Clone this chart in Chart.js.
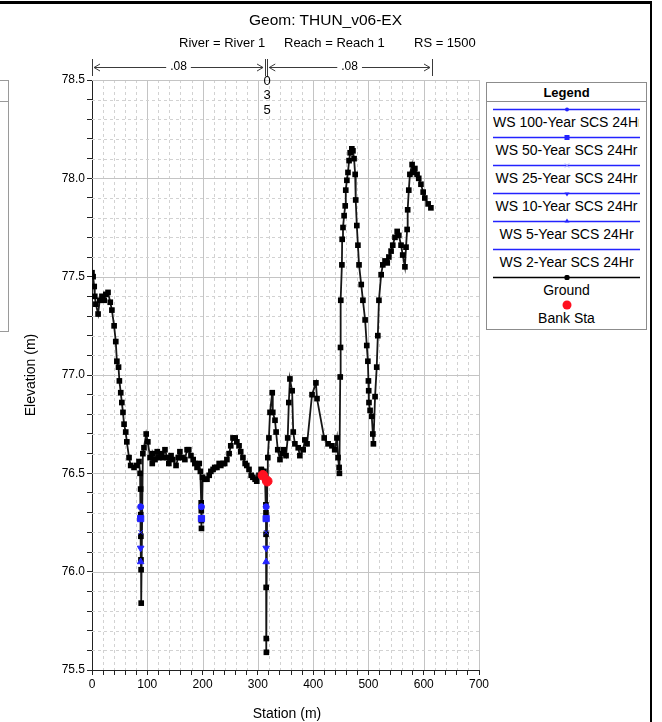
<!DOCTYPE html>
<html>
<head>
<meta charset="utf-8">
<title>Geom: THUN_v06-EX</title>
<script src="https://cdn.jsdelivr.net/npm/chart.js@4.4.1/dist/chart.umd.min.js"></script>
<style>
  html, body { margin: 0; padding: 0; background: #fff; }
  body { width: 662px; height: 722px; position: relative; overflow: hidden;
         font-family: "Liberation Sans", Arial, sans-serif; color: #000; }
  #chart { position: absolute; left: 0; top: 0; }
  .txt { position: absolute; white-space: nowrap; line-height: 1; }
  .frame-top { position: absolute; left: 0; top: 1px; width: 652px; height: 3px; background: #000; }
  .frame-right { position: absolute; left: 650px; top: 1px; width: 2px; height: 721px; background: #000; }
  .side-box { position: absolute; left: -30px; top: 80px; width: 37px; height: 250px;
              border: 1px solid #9a9a9a; background: #fff; }
  .side-box .sep { position: absolute; left: 0; right: 0; top: 20px; border-top: 1px solid #9a9a9a; }
  #legend { position: absolute; left: 486px; top: 82px; width: 159px; height: 246px;
            border: 1px solid #8c8c8c; background: #fff; overflow: hidden; }
  #legend .head { position: absolute; left: 0; right: 0; top: 2px; text-align: center;
                  font-weight: bold; font-size: 13px; }
  #legend .sep { position: absolute; left: 0; right: 0; top: 18px; border-top: 1px solid #8c8c8c; }
  #legend svg { position: absolute; left: 0; }
  #legend .lab { position: absolute; left: 2px; width: 155px; text-align: center;
                 font-size: 14px; white-space: nowrap; overflow: hidden; text-overflow: clip; }
</style>
</head>
<body>
<canvas id="chart" width="662" height="722"></canvas>

<div class="frame-top"></div>
<div class="frame-right"></div>
<div class="side-box"><div class="sep"></div></div>

<div class="txt" style="left:249px; top:12px; font-size:15.5px;">Geom: THUN_v06-EX</div>
<div class="txt" style="left:179px; top:36px; font-size:13px;">River = River 1</div>
<div class="txt" style="left:284px; top:36px; font-size:13px;">Reach = Reach 1</div>
<div class="txt" style="left:414px; top:36px; font-size:13px;">RS = 1500</div>

<div class="txt" style="left:30px; top:375px; font-size:14px; transform:translate(-50%,-50%) rotate(-90deg);">Elevation (m)</div>
<div class="txt" style="left:287px; top:713px; font-size:14px; transform:translate(-50%,-50%);">Station (m)</div>

<div id="legend"><div class="head">Legend</div><div class="sep"></div></div>

<script>
// Ground profile of the cross section (station in m, elevation in m)
const groundStation = [
  0, 2, 4, 5, 7, 11, 14, 18, 22, 25, 29, 33, 36, 40, 43, 45, 48, 49.5, 52, 54,
  56, 58, 61, 63, 67, 70, 76, 81, 85, 87,
  88, 88.2, 88.4, 88.6, 88.8, 89,
  92, 94, 98, 101, 105, 109, 110, 114, 118, 121, 125, 128, 132, 136, 139, 143, 146, 152, 156, 159,
  163, 168, 172, 175, 179, 183, 186, 190, 194, 196,
  197.5, 197.7, 197.9, 198,
  200, 204, 208, 212, 215, 219, 222, 226, 230, 233, 237, 240, 244, 248, 251, 255, 259, 262, 266, 269,
  273, 277, 280, 284, 288, 291, 295, 298, 302, 306, 309, 311, 313,
  314.5, 314.7, 314.8, 315, 315.2, 315.4,
  317, 318, 320, 322, 326, 327, 331, 333, 336, 340, 344, 347, 351, 354, 356, 358, 362, 364, 367, 373,
  376, 382, 385, 389, 398, 405, 407, 420, 427, 434, 439, 443, 445, 447, 447.5,
  449, 449.5, 450, 452, 452.5, 454, 456, 458, 459, 461, 463, 465, 467, 470, 472, 474, 476, 477, 479, 481,
  483, 487, 490, 494, 497, 499, 500, 500.5, 501, 503, 506, 508, 509, 512, 515, 517, 519, 523, 526, 530,
  534, 537, 541, 544, 548, 552, 555, 559, 562, 566, 568, 570, 571, 573, 575, 579, 581, 584, 588, 591,
  595, 599, 602, 608, 613
];
const groundElev = [
  77.52, 77.50, 77.45, 77.40, 77.36, 77.31, 77.38, 77.40, 77.38, 77.41, 77.42, 77.37, 77.33, 77.25, 77.17, 77.07, 77.04, 76.97, 76.91, 76.86,
  76.81, 76.75, 76.71, 76.66, 76.58, 76.54, 76.53, 76.54, 76.56, 76.50,
  76.42, 76.29, 76.18, 76.06, 76.01, 75.84,
  76.60, 76.63, 76.70, 76.66, 76.58, 76.55, 76.60, 76.57, 76.61, 76.58, 76.60, 76.58, 76.62, 76.58, 76.55, 76.59, 76.57, 76.54, 76.58, 76.61,
  76.58, 76.57, 76.62, 76.62, 76.59, 76.57, 76.55, 76.53, 76.55, 76.51,
  76.35, 76.31, 76.26, 76.22,
  76.48, 76.47, 76.47, 76.49, 76.51, 76.52, 76.53, 76.53, 76.55, 76.54, 76.55, 76.55, 76.57, 76.60, 76.64, 76.68, 76.68, 76.66, 76.64, 76.61,
  76.58, 76.55, 76.54, 76.52, 76.49, 76.48, 76.47, 76.46, 76.49, 76.52, 76.49, 76.51, 76.47,
  76.34, 76.30, 76.19, 75.92, 75.66, 75.59,
  76.46, 76.58, 76.68, 76.81, 76.91, 76.81, 76.77, 76.71, 76.62, 76.57, 76.60, 76.62, 76.59, 76.68, 76.86, 76.98, 76.92, 76.71, 76.65, 76.63,
  76.59, 76.62, 76.67, 76.65, 76.90, 76.96, 76.88, 76.68, 76.65, 76.64, 76.62, 76.68, 76.58, 76.53, 76.50,
  76.99, 77.14, 77.38, 77.56, 77.69, 77.75, 77.81, 77.86, 77.94, 77.99, 78.03, 78.09, 78.13, 78.15, 78.14, 78.10, 78.02, 77.89, 77.76, 77.66,
  77.56, 77.46, 77.38, 77.28, 77.15, 77.07, 76.97, 76.92, 76.86, 76.82, 76.79, 76.70, 76.65, 76.89, 77.04, 77.20, 77.38, 77.51, 77.56, 77.58,
  77.57, 77.60, 77.63, 77.66, 77.70, 77.73, 77.71, 77.66, 77.61, 77.55, 77.65, 77.74, 77.84, 77.94, 78.02, 78.07, 78.03, 78.05, 78.02, 78.00,
  77.97, 77.93, 77.90, 77.87, 77.85
];

// Bank stations
const bankStation = [309, 317];
const bankElev = [76.49, 76.46];

// Water surface elevations in the three low slots (null = slot is dry)
const slotStation = [88, 198, 315];
const ws100 = [76.33, 76.33, 76.33];
const ws50  = [76.27, 76.27, 76.27];
const ws25  = [76.20, null, 76.20];
const ws10  = [76.12, null, 76.12];
const ws5   = [76.05, null, 76.05];
const ws2   = [75.98, null, 75.98];

// Manning's n regions: break stations and n values
const nBreaks = [0, 313, 317, 615];
const nValues = ['.08', '.035', '.08'];

// Axis tick labels
const xTickLabels = [0, 100, 200, 300, 400, 500, 600, 700];
const yTickLabels = [75.5, 76.0, 76.5, 77.0, 77.5, 78.0, 78.5];

const FONT = '"Liberation Sans", Arial, sans-serif';
const BLUE = '#2323ff';

function pts(xs, ys) {
  const out = [];
  xs.forEach((x, i) => { if (ys[i] !== null && ys[i] !== undefined) out.push({ x: x, y: ys[i] }); });
  return out;
}

const wsSeries = [
  { label: 'WS 100-Year SCS 24Hr', values: ws100, style: 'circle',   radius: 3.0, rot: 0 },
  { label: 'WS 50-Year SCS 24Hr',  values: ws50,  style: 'rect',     radius: 4.4, rot: 0 },
  { label: 'WS 25-Year SCS 24Hr',  values: ws25,  style: 'crossRot', radius: 3.2, rot: 0 },
  { label: 'WS 10-Year SCS 24Hr',  values: ws10,  style: 'triangle', radius: 3.8, rot: 180 },
  { label: 'WS 5-Year SCS 24Hr',   values: ws5,   style: 'triangle', radius: 3.8, rot: 0 },
  { label: 'WS 2-Year SCS 24Hr',   values: ws2,   style: 'circle',   radius: 0,   rot: 0 }
];

const datasets = [];
datasets.push({
  label: 'Bank Sta',
  data: pts(bankStation, bankElev),
  showLine: false,
  pointStyle: 'circle',
  pointRadius: 4.8,
  pointBackgroundColor: '#ff1020',
  pointBorderColor: '#ff1020',
  order: 0
});
wsSeries.forEach(s => {
  datasets.push({
    label: s.label,
    data: pts(slotStation, s.values),
    showLine: false,
    pointStyle: s.style,
    pointRadius: s.radius,
    pointRotation: s.rot,
    pointBackgroundColor: BLUE,
    pointBorderColor: BLUE,
    pointBorderWidth: 1,
    order: 1
  });
});
datasets.push({
  label: 'Ground',
  data: pts(groundStation, groundElev),
  showLine: true,
  borderColor: '#161616',
  borderWidth: 1.8,
  pointStyle: 'rect',
  pointRadius: 4.0,
  pointBackgroundColor: '#000',
  pointBorderColor: '#000',
  pointBorderWidth: 0,
  tension: 0,
  order: 2
});

// Grid: solid major lines, dashed minor lines, drawn behind the data
const sectionGrid = {
  id: 'sectionGrid',
  beforeDatasetsDraw(chart) {
    const { ctx, chartArea: a, scales: { x, y } } = chart;
    ctx.save();
    ctx.lineWidth = 1;
    x.ticks.forEach(t => {
      const px = Math.round(x.getPixelForValue(t.value)) + 0.5;
      const major = xTickLabels.includes(t.value);
      if (t.value === 0) return;
      ctx.strokeStyle = major ? '#c4c4c4' : '#d2d2d2';
      ctx.setLineDash(major ? [] : [3, 3]);
      ctx.beginPath(); ctx.moveTo(px, a.top); ctx.lineTo(px, a.bottom); ctx.stroke();
    });
    y.ticks.forEach(t => {
      const py = Math.round(y.getPixelForValue(t.value)) + 0.5;
      const major = yTickLabels.some(v => Math.abs(v - t.value) < 1e-6);
      if (Math.abs(t.value - 75.5) < 1e-6) return;
      ctx.strokeStyle = major ? '#c4c4c4' : '#d2d2d2';
      ctx.setLineDash(major ? [] : [3, 3]);
      ctx.beginPath(); ctx.moveTo(a.left, py); ctx.lineTo(a.right, py); ctx.stroke();
    });
    ctx.restore();
  }
};

// Manning's n regions drawn above the plot
const nRegions = {
  id: 'nRegions',
  afterDraw(chart) {
    const { ctx, scales: { x } } = chart;
    const yLine = 67;
    ctx.save();
    ctx.strokeStyle = '#3a3a3a';
    ctx.fillStyle = '#000';
    ctx.lineWidth = 1;
    ctx.font = '12px ' + FONT;
    nBreaks.forEach(b => {
      const px = Math.round(x.getPixelForValue(b)) + 0.5;
      ctx.beginPath(); ctx.moveTo(px, 59); ctx.lineTo(px, 76); ctx.stroke();
    });
    for (let i = 0; i < nValues.length; i++) {
      const x0 = x.getPixelForValue(nBreaks[i]);
      const x1 = x.getPixelForValue(nBreaks[i + 1]);
      if (x1 - x0 > 20) {
        const l = x0 + 2, r = x1 - 2, mid = (x0 + x1) / 2;
        const w = ctx.measureText(nValues[i]).width;
        ctx.beginPath();
        ctx.moveTo(l, yLine + 0.5); ctx.lineTo(mid - w / 2 - 4, yLine + 0.5);
        ctx.moveTo(mid + w / 2 + 4, yLine + 0.5); ctx.lineTo(r, yLine + 0.5);
        ctx.moveTo(l + 6, yLine - 3); ctx.lineTo(l, yLine + 0.5); ctx.lineTo(l + 6, yLine + 4);
        ctx.moveTo(r - 6, yLine - 3); ctx.lineTo(r, yLine + 0.5); ctx.lineTo(r - 6, yLine + 4);
        ctx.stroke();
        ctx.textAlign = 'center'; ctx.textBaseline = 'middle';
        ctx.fillText(nValues[i], mid, yLine);
      } else {
        const mid = (x0 + x1) / 2;
        const digits = nValues[i].replace('.', '').split('');
        ctx.font = '13px ' + FONT;
        ctx.textAlign = 'center'; ctx.textBaseline = 'middle';
        digits.forEach((d, k) => ctx.fillText(d, mid + 1, 81 + k * 14.5));
        ctx.font = '12px ' + FONT;
      }
    }
    ctx.restore();
  }
};

new Chart(document.getElementById('chart'), {
  type: 'scatter',
  data: { datasets: datasets },
  plugins: [sectionGrid, nRegions],
  options: {
    responsive: false,
    animation: false,
    devicePixelRatio: 1,
    layout: { padding: { left: 40, top: 80, right: 183, bottom: 22 } },
    plugins: { legend: { display: false }, tooltip: { enabled: false }, title: { display: false } },
    elements: { line: { tension: 0 } },
    scales: {
      x: {
        type: 'linear', min: 0, max: 700,
        afterFit(s) { s.height = 30; },
        ticks: {
          stepSize: 20, autoSkip: false, maxRotation: 0, color: '#000', padding: 2,
          font: { size: 12, family: FONT },
          callback: v => (xTickLabels.includes(v) ? String(v) : '')
        },
        grid: { drawOnChartArea: false, drawTicks: true, tickLength: 5, tickColor: '#222' },
        border: { display: true, color: '#222', width: 1 }
      },
      y: {
        type: 'linear', min: 75.5, max: 78.5,
        afterFit(s) { s.width = 52; },
        ticks: {
          stepSize: 0.1, autoSkip: false, color: '#000', padding: 2,
          font: { size: 12, family: FONT },
          callback: v => {
            const hit = yTickLabels.find(t => Math.abs(t - v) < 1e-6);
            return hit !== undefined ? hit.toFixed(1) : '';
          }
        },
        grid: { drawOnChartArea: false, drawTicks: true, tickLength: 5, tickColor: '#222' },
        border: { display: true, color: '#222', width: 1 }
      }
    }
  }
});

// Legend panel
const legendEntries = wsSeries.map(s => ({ label: s.label, color: BLUE, marker: s.radius ? (s.style === 'triangle' ? (s.rot ? 'down' : 'up') : s.style) : 'none' }));
legendEntries.push({ label: 'Ground', color: '#000', marker: 'dot' });
legendEntries.push({ label: 'Bank Sta', color: '#ff1020', marker: 'bank' });

function markerSvg(m, c, cx, cy) {
  switch (m) {
    case 'circle': return `<circle cx="${cx}" cy="${cy}" r="2" fill="${c}"/>`;
    case 'rect': return `<rect x="${cx - 2.5}" y="${cy - 2.5}" width="5" height="5" fill="${c}"/>`;
    case 'crossRot': return `<path d="M${cx - 2} ${cy - 2}L${cx + 2} ${cy + 2}M${cx + 2} ${cy - 2}L${cx - 2} ${cy + 2}" stroke="#9a9aff" stroke-width="1"/>`;
    case 'down': return `<path d="M${cx - 2.5} ${cy - 1}L${cx + 2.5} ${cy - 1}L${cx} ${cy + 3}Z" fill="${c}"/>`;
    case 'up': return `<path d="M${cx - 2.5} ${cy + 1}L${cx + 2.5} ${cy + 1}L${cx} ${cy - 3}Z" fill="${c}"/>`;
    case 'dot': return `<rect x="${cx - 2.5}" y="${cy - 2.5}" width="5" height="5" rx="1.5" fill="${c}"/>`;
    default: return '';
  }
}

const legendBox = document.getElementById('legend');
legendEntries.forEach((e, i) => {
  const lineY = 26 + i * 28;   // box-relative position of the sample line
  const cx = 80;
  let svg;
  if (e.marker === 'bank') {
    svg = `<svg width="159" height="12" style="top:${lineY - 6}px"><circle cx="${cx}" cy="6" r="4.5" fill="${e.color}"/></svg>`;
  } else {
    svg = `<svg width="159" height="12" style="top:${lineY - 6}px"><line x1="6" y1="6.5" x2="153" y2="6.5" stroke="${e.color}" stroke-width="1.4"/>${markerSvg(e.marker, e.color, cx, 6.5)}</svg>`;
  }
  legendBox.insertAdjacentHTML('beforeend', svg);
  const lab = document.createElement('div');
  lab.className = 'lab';
  lab.style.top = (lineY + 5) + 'px';
  lab.textContent = e.label;
  if (i === 0) { lab.style.textAlign = 'left'; lab.style.left = '6px'; lab.style.width = '146px'; }
  legendBox.appendChild(lab);
});
</script>
</body>
</html>
